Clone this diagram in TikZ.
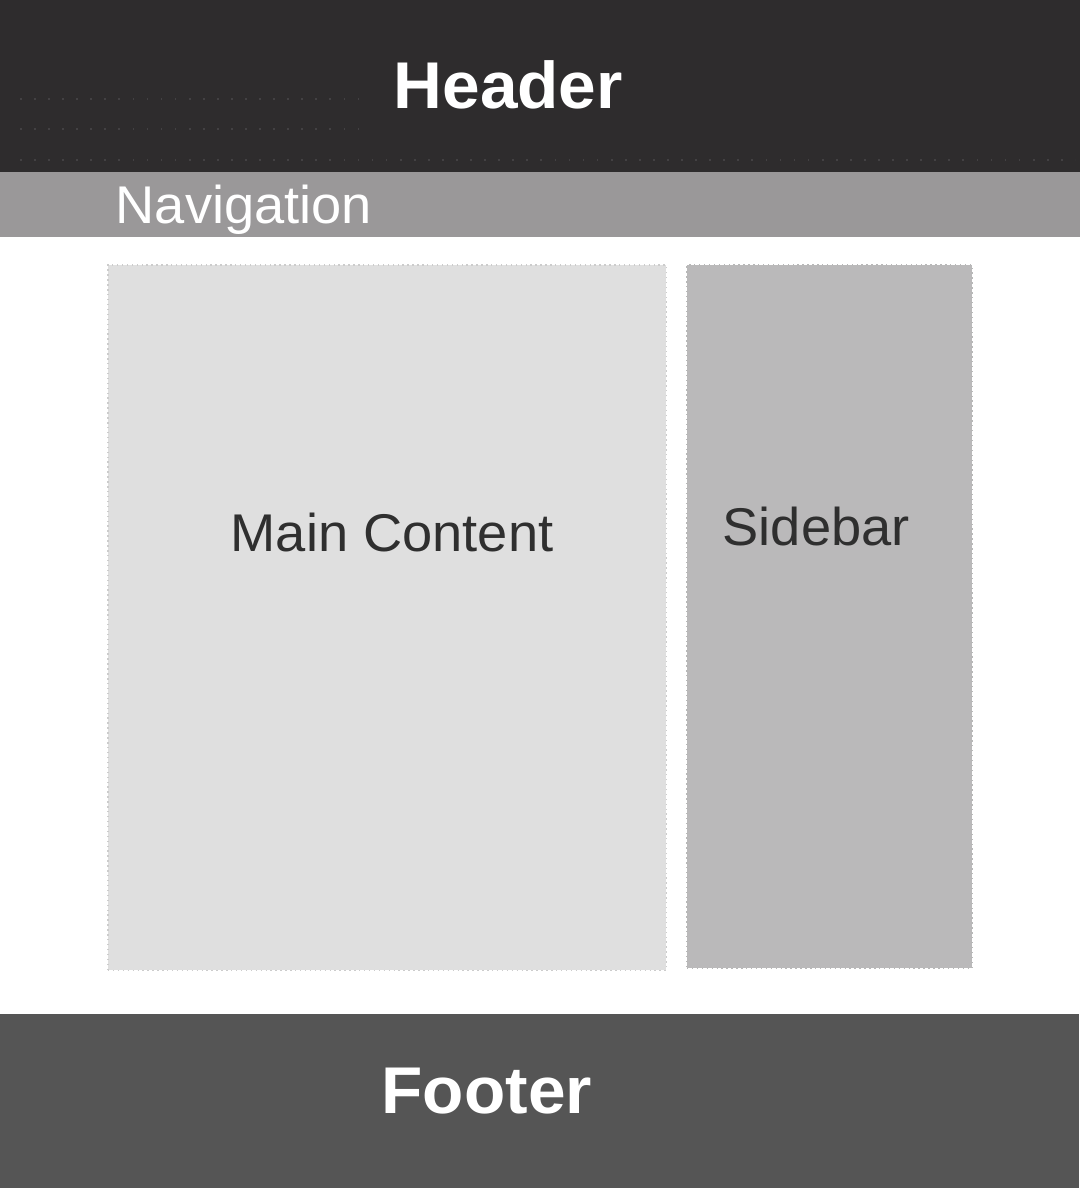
\documentclass[tikz,border=0pt]{standalone}
\usepackage{fontspec}
\setmainfont[FakeStretch=1.022]{Liberation Sans}
\usepackage{tikz}
\usetikzlibrary{positioning}
\usepackage{color}
\definecolor{headerGray}{HTML}{2E2C2D}
\definecolor{navGray}{HTML}{9A9899}
\definecolor{mainGray}{HTML}{DFDFDF}
\definecolor{sideGray}{HTML}{BAB9BA}
\definecolor{footerGray}{HTML}{555555}
\definecolor{labelDark}{HTML}{2F2F2F}
\definecolor{dotGray}{HTML}{434143}

\begin{document}
\begin{tikzpicture}[x=0.01cm,y=-0.01cm]
			\tikzstyle{block}=[rectangle, inner sep=0pt, outer sep=0pt, anchor=north west]
			\tikzstyle{bigLabel}=[inner sep=0pt, anchor=base west, text=white, font=\bfseries\fontsize{18.8}{22}\selectfont]
			\tikzstyle{smallLabel}=[inner sep=0pt, anchor=base west, font=\fontsize{15.1}{18}\selectfont]
			\tikzstyle{dots}=[draw=dotGray, line width=0.5pt, dash pattern=on 0.5pt off 3.5pt]
			\useasboundingbox (0,0) rectangle (1080,1188);
			
			\node[block, fill=headerGray, minimum width=10.8cm, minimum height=1.72cm] at (0, 0) (header) {};
			\draw[dots] (20, 99) -- (370, 99);
			\draw[dots] (20, 129) -- (370, 129);
			\draw[dots] (20, 160) -- (1075, 160);
			\node[bigLabel] at (393, 109) (headerText) {Header};
			
			\node[block, fill=navGray, minimum width=10.8cm, minimum height=0.65cm] at (0, 172) (navigation) {};
			\node[smallLabel, text=white] at (115, 223) (navigationText) {Navigation};
			
			\node[block, fill=mainGray, draw=white!80!black, densely dotted, line width=0.4pt, minimum width=5.58cm, minimum height=7.05cm] at (108, 265) (mainContent) {};
			\node[smallLabel, text=labelDark] at (230, 551) (mainContentText) {Main Content};
			
			\node[block, fill=sideGray, draw=white!72!black, densely dotted, line width=0.4pt, minimum width=2.85cm, minimum height=7.03cm] at (687, 265) (sidebar) {};
			\node[smallLabel, text=labelDark] at (722, 545) (sidebarText) {Sidebar};
			
			\node[block, fill=footerGray, minimum width=10.78cm, minimum height=1.74cm] at (0, 1014) (footer) {};
			\node[bigLabel] at (381, 1113) (footerText) {Footer};
		\end{tikzpicture}
\end{document}
